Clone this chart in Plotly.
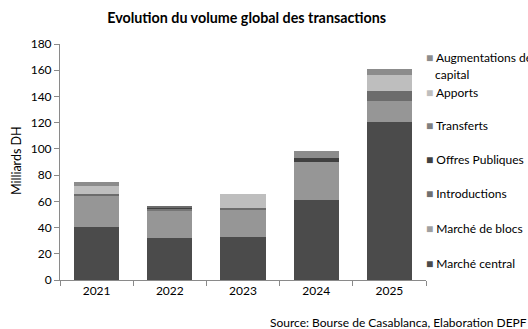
import plotly.graph_objects as go

# Volume global des transactions, en milliards de DH
years = ["2021", "2022", "2023", "2024", "2025"]
marche_central = [40.7, 32.3, 33.0, 61.0, 120.5]
marche_blocs = [23.4, 20.6, 20.4, 29.2, 16.3]
introductions = [0, 1.3, 0, 0, 0]
offres_publiques = [0, 1.3, 0, 2.6, 0]
transferts = [1.3, 1.3, 1.3, 0, 7.4]
apports = [6.5, 0, 10.9, 0, 12.2]
augmentations = [2.6, 0, 0, 5.8, 4.5]

y_ticks = [0, 20, 40, 60, 80, 100, 120, 140, 160, 180]

series = [
    ("Marché central", marche_central, "#4b4b4b"),
    ("Marché de blocs", marche_blocs, "#969696"),
    ("Introductions", introductions, "#767676"),
    ("Offres Publiques", offres_publiques, "#404040"),
    ("Transferts", transferts, "#6c6c6c"),
    ("Apports", apports, "#bebebe"),
    ("Augmentations de capital", augmentations, "#8c8c8c"),
]

FONT = "Lato"
W, H = 528, 329
ML, MR, MT, MB = 60, 102, 44, 49
PW, PH = W - ML - MR, H - MT - MB

fig = go.Figure()
for name, vals, col in series:
    fig.add_trace(go.Bar(x=years, y=vals, name=name, marker=dict(color=col, line=dict(width=0)),
                         showlegend=False))


def px_x(x):
    return (x - ML) / PW


def px_y(y):
    return (H - MB - y) / PH


# Legend drawn as text entries on the right
legend_rows = [
    ("Augmentations de", "#8c8c8c", 58),
    ("Apports", "#bebebe", 92),
    ("Transferts", "#7f7f7f", 126),
    ("Offres Publiques", "#404040", 159),
    ("Introductions", "#6f6f6f", 193),
    ("Marché de blocs", "#a0a0a0", 228),
    ("Marché central", "#4b4b4b", 263),
]
annotations = []
for label, col, ypx in legend_rows:
    annotations.append(dict(
        text=f'<span style="color:{col}">■</span> {label}', xref="paper", yref="paper",
        x=px_x(424), y=px_y(ypx), xanchor="left", yanchor="middle", showarrow=False,
        font=dict(family=FONT, size=12, color="#000000"), align="left"))
annotations.append(dict(
    text="capital", xref="paper", yref="paper", x=px_x(433), y=px_y(74),
    xanchor="left", yanchor="middle", showarrow=False,
    font=dict(family=FONT, size=12, color="#000000")))

# Axis title
annotations.append(dict(
    text="Milliards DH", xref="paper", yref="paper", x=px_x(16), y=px_y(161),
    xanchor="center", yanchor="middle", textangle=-90, showarrow=False,
    font=dict(family=FONT, size=12.5, color="#000000")))

# Source line
annotations.append(dict(
    text="Source: Bourse de Casablanca, Elaboration DEPF", xref="paper", yref="paper",
    x=px_x(268), y=px_y(322), xanchor="left", yanchor="middle", showarrow=False,
    font=dict(family=FONT, size=12, color="#000000")))

fig.update_layout(
    barmode="stack",
    bargap=0.385,
    width=W, height=H,
    margin=dict(l=ML, r=MR, t=MT, b=MB, autoexpand=False),
    paper_bgcolor="white", plot_bgcolor="white",
    font=dict(family=FONT, size=12, color="#000000"),
    title=dict(text="<b>Evolution du volume global des transactions</b>",
               x=246.7 / W, xref="container", xanchor="center",
               y=1 - 18 / H, yref="container", yanchor="middle",
               font=dict(family=FONT, size=14.3, color="#000000")),
    annotations=annotations,
    showlegend=False,
)
fig.update_xaxes(showgrid=False, showline=True, linecolor="#8a8a8a", linewidth=1,
                 ticks="outside", tickson="boundaries", ticklen=5, tickcolor="#8a8a8a",
                 tickfont=dict(family=FONT, size=12, color="#000000"))
fig.update_yaxes(range=[0, 180], tickvals=y_ticks, showgrid=False, zeroline=False,
                 showline=True, linecolor="#8a8a8a", linewidth=1,
                 ticks="outside", ticklen=5, tickcolor="#8a8a8a",
                 tickfont=dict(family=FONT, size=12, color="#000000"))

fig.write_html("out.html")
